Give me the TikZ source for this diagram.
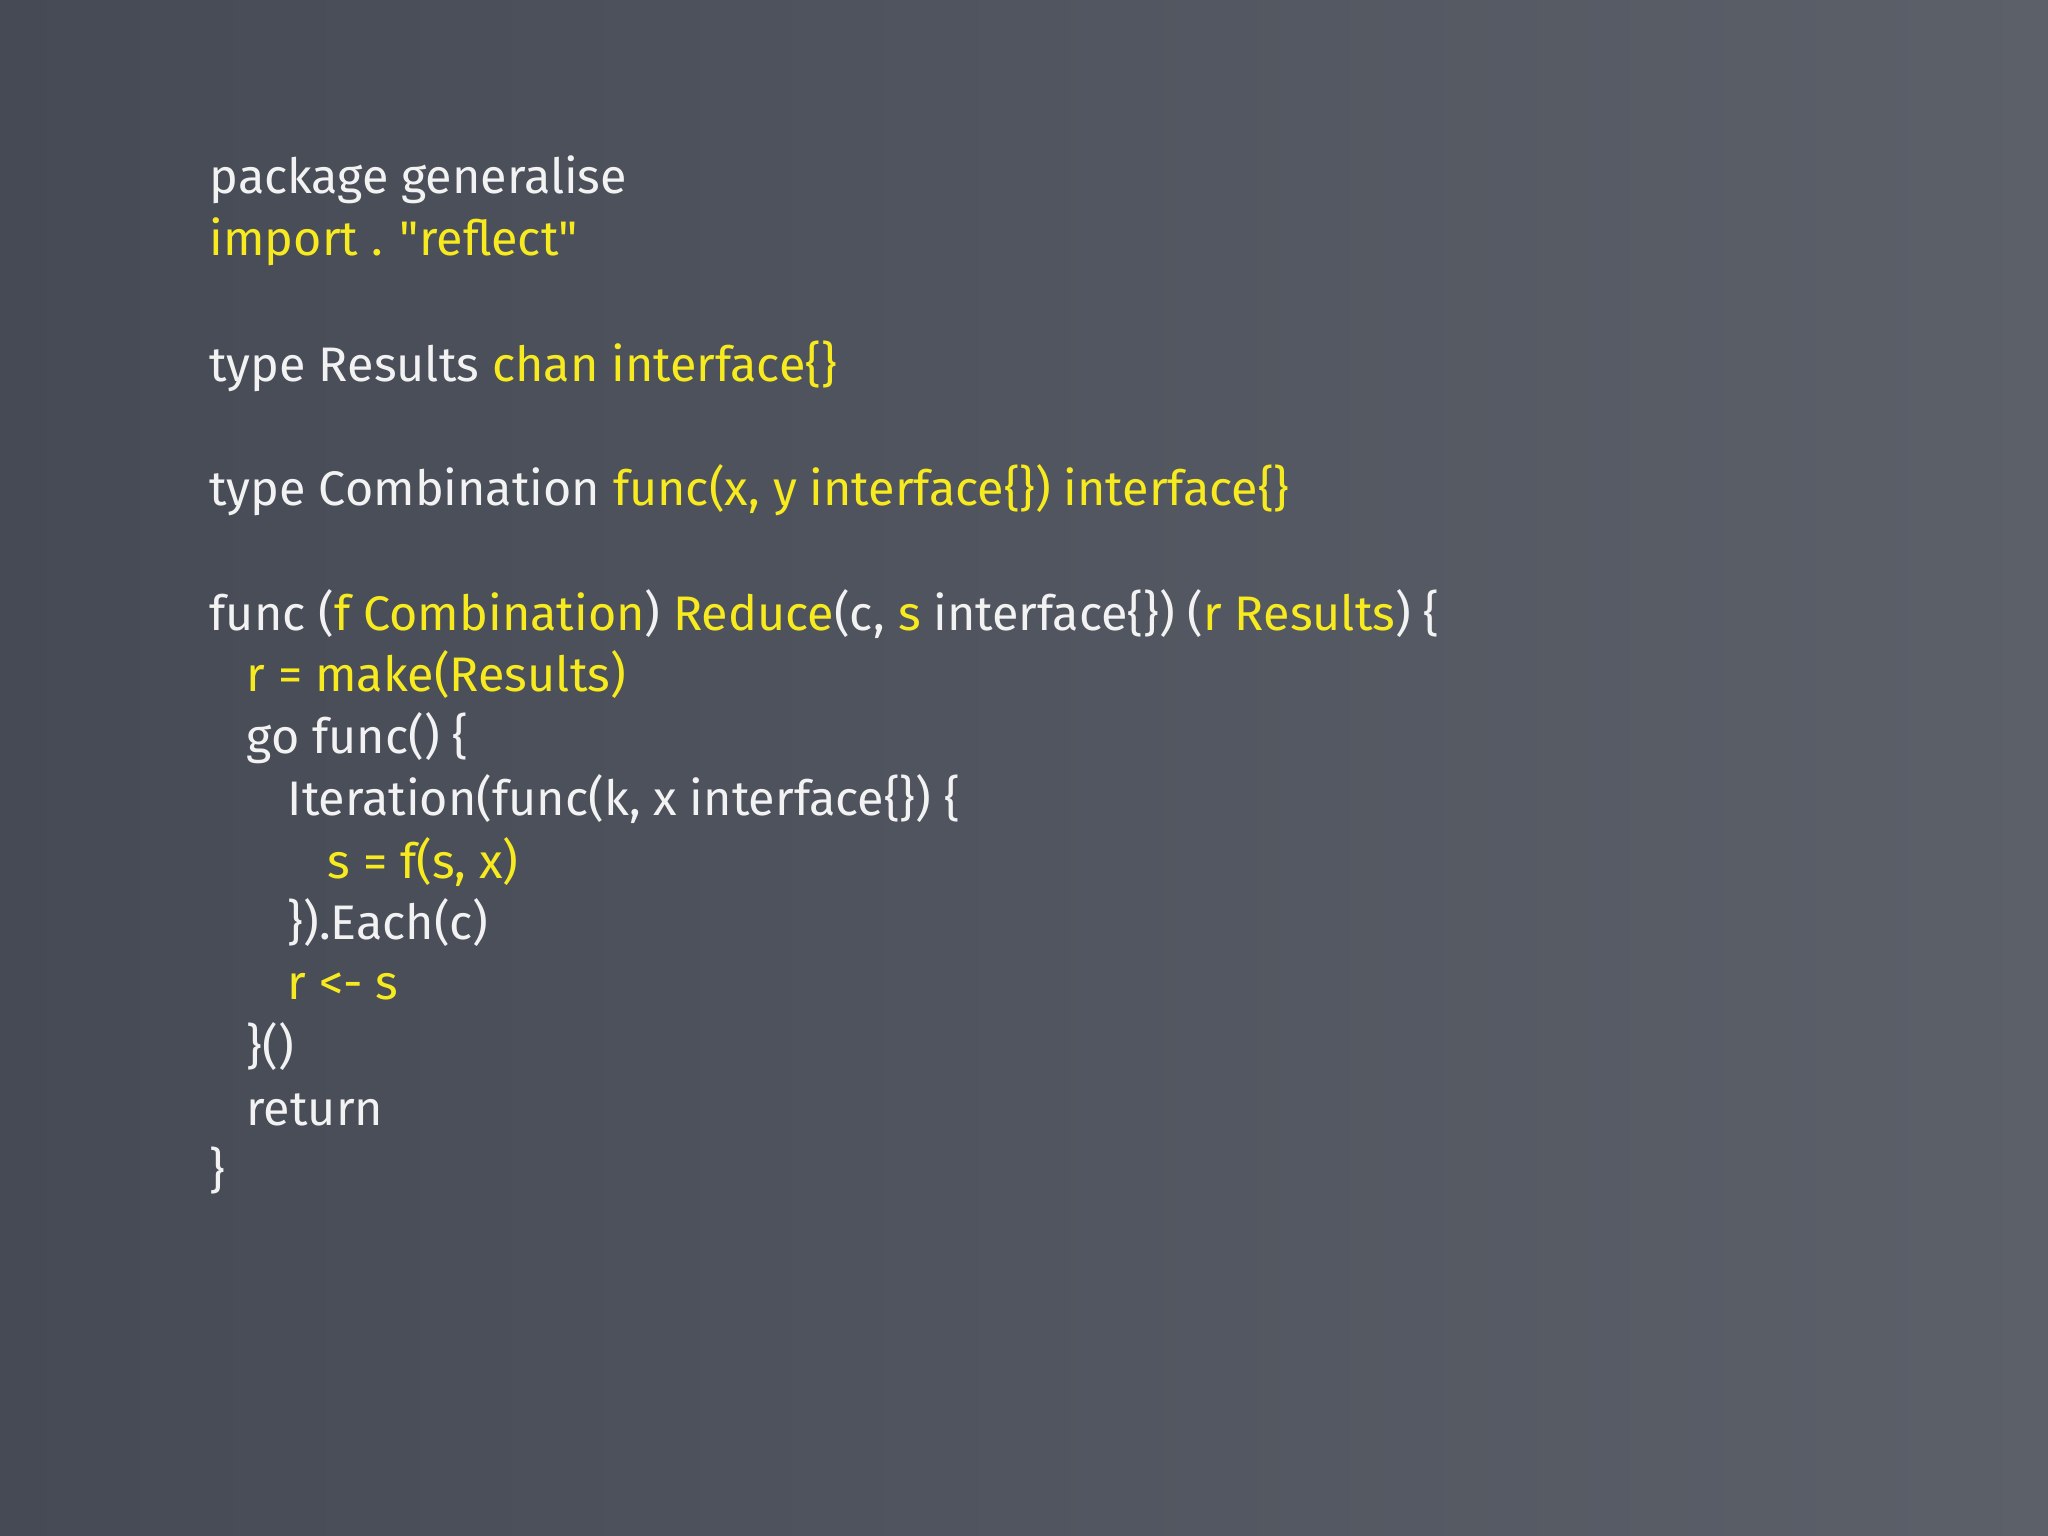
\documentclass[tikz,border=0pt]{standalone}
\usepackage{fontspec}
\setmainfont{Fira Sans}
\newfontfamily\qfont{Fira Sans}
\definecolor{bgA}{HTML}{454A55}
\definecolor{bgB}{HTML}{5C6069}
\definecolor{cw}{HTML}{F2F2F2}
\definecolor{cy}{HTML}{F7EA1E}
\newcommand{\Y}[1]{\textcolor{cy}{#1}}
\newcommand{\qq}{{\qfont\symbol{"22}}}
\begin{document}
\begin{tikzpicture}[x=1cm,y=1cm,code/.style={anchor=west,inner sep=0pt,text=cw,font=\fontsize{13.8pt}{16pt}\selectfont}]
\useasboundingbox (0,0) rectangle (20.48,15.36);
\shade[left color=bgA,right color=bgB] (0,0) rectangle (20.48,15.36);
\node[code] (l1) at (2.09,15.36-1.80) {package generalise};
\node[code] (l2) at (2.09,15.36-2.42) {\Y{import . \qq reflect\qq}};
\node[code] (l3) at (2.09,15.36-3.66) {type Results \Y{chan interface\{\}}};
\node[code] (l4) at (2.09,15.36-4.90) {type Combination \Y{func(x, y interface\{\}) interface\{\}}};
\node[code] (l5) at (2.09,15.36-6.14) {func (\Y{f Combination}) \Y{Reduce}(c, \Y{s} interface\{\}) (\Y{r Results}) \{};
\node[code] (l6) at (2.46,15.36-6.75) {\Y{r = make(Results)}};
\node[code] (l7) at (2.46,15.36-7.38) {go func() \{};
\node[code] (l8) at (2.87,15.36-7.99) {Iteration(func(k, x interface\{\}) \{};
\node[code] (l9) at (3.27,15.36-8.62) {\Y{s = f(s, x)}};
\node[code] (l10) at (2.87,15.36-9.23) {\}).Each(c)};
\node[code] (l11) at (2.87,15.36-9.86) {\Y{r <- s}};
\node[code] (l12) at (2.46,15.36-10.47) {\}()};
\node[code] (l13) at (2.46,15.36-11.10) {return};
\node[code] (l14) at (2.09,15.36-11.71) {\}};
\end{tikzpicture}
\end{document}
